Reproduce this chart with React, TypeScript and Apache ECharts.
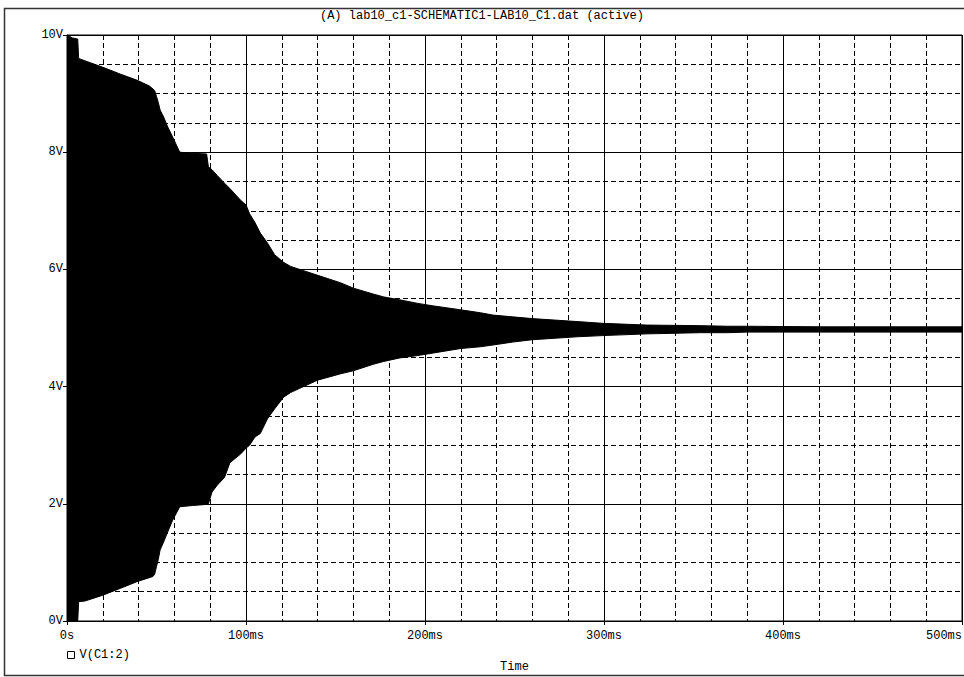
import React, { useEffect, useRef } from "react";
import * as echarts from "echarts";

const titleText = "(A) lab10_c1-SCHEMATIC1-LAB10_C1.dat (active)";
const seriesName = "V(C1:2)";

// time in ms
const timeMs = [0, 3, 6, 6.5, 10, 20, 30, 39, 46, 48, 49, 50, 51, 52, 54, 56, 59, 63, 70, 78, 79, 81, 84, 88, 91, 97, 100, 102, 105, 108, 112, 116, 121, 125, 130, 140, 153, 160, 171, 177, 186, 196, 204, 220, 231, 238, 249, 260, 285, 299, 324, 354, 369, 380, 421, 460, 500];
// upper envelope of V(C1:2), volts
const upperV = [10.0, 9.95, 9.93, 9.6, 9.56, 9.45, 9.33, 9.23, 9.13, 9.08, 9.05, 8.95, 8.85, 8.72, 8.6, 8.45, 8.26, 8.0, 7.98, 7.97, 7.75, 7.7, 7.6, 7.47, 7.38, 7.18, 7.1, 6.95, 6.8, 6.62, 6.45, 6.25, 6.12, 6.05, 6.0, 5.9, 5.77, 5.68, 5.58, 5.53, 5.48, 5.42, 5.38, 5.31, 5.26, 5.22, 5.19, 5.16, 5.11, 5.08, 5.05, 5.04, 5.03, 5.03, 5.02, 5.02, 5.02];
// lower envelope of V(C1:2), volts
const lowerV = [0.0, 0.0, 0.0, 0.33, 0.34, 0.44, 0.56, 0.67, 0.74, 0.76, 0.8, 0.93, 1.05, 1.21, 1.35, 1.5, 1.72, 1.95, 1.97, 1.99, 2.0, 2.2, 2.32, 2.45, 2.7, 2.85, 2.95, 3.0, 3.14, 3.2, 3.45, 3.62, 3.82, 3.9, 3.97, 4.11, 4.22, 4.27, 4.38, 4.43, 4.49, 4.53, 4.57, 4.65, 4.68, 4.71, 4.76, 4.8, 4.85, 4.87, 4.9, 4.92, 4.92, 4.93, 4.93, 4.93, 4.93];

const FONT = "Liberation Mono";

export default function App() {
  const ref = useRef<HTMLDivElement>(null);
  useEffect(() => {
    if (!ref.current) return;
    const chart = echarts.init(ref.current, null, { renderer: "svg" });
    const envData = timeMs.map((t, i) => [t, upperV[i], lowerV[i]]);
    const dashed = { color: "#000", width: 1, type: [5, 3] as any };
    chart.setOption({
      animation: false,
      backgroundColor: "#fff",
      textStyle: { fontFamily: FONT, color: "#000" },
      title: {
        text: titleText,
        left: 477,
        textAlign: "center",
        top: 5,
        textStyle: { fontFamily: FONT, fontSize: 12, fontWeight: "normal", color: "#000" },
      },
      legend: {
        data: [{ name: seriesName, icon: "rect", itemStyle: { color: "#fff", borderColor: "#000", borderWidth: 1 } }],
        left: 62,
        top: 644,
        itemWidth: 7,
        itemHeight: 7,
        itemGap: 4,
        textStyle: { fontFamily: FONT, fontSize: 12, color: "#000" },
      },
      grid: {
        left: 67,
        right: 2,
        top: 35,
        bottom: 56,
        outerBoundsMode: "none",
        containLabel: false,
        show: true,
        borderColor: "#000",
        borderWidth: 1,
        backgroundColor: "transparent",
      },
      xAxis: {
        type: "value",
        min: 0,
        max: 500,
        interval: 100,
        name: "Time",
        nameLocation: "middle",
        nameGap: 40,
        nameTextStyle: { fontFamily: FONT, fontSize: 12, color: "#000" },
        axisLine: { show: true, lineStyle: { color: "#000", width: 1 } },
        axisTick: { show: true, inside: false, length: 4, lineStyle: { color: "#000" } },
        minorTick: { show: false, splitNumber: 5 },
        axisLabel: {
          fontFamily: FONT,
          fontSize: 12,
          color: "#000",
          margin: 9,
          alignMaxLabel: "right",
          formatter: (v: number) => (v === 0 ? "0s" : `${v}ms`),
        },
        splitLine: { show: true, lineStyle: { color: "#000", width: 1 } },
        minorSplitLine: { show: true, lineStyle: dashed },
      },
      yAxis: {
        type: "value",
        min: 0,
        max: 10,
        interval: 2,
        axisLine: { show: true, lineStyle: { color: "#000", width: 1 } },
        axisTick: { show: true, inside: false, length: 4, lineStyle: { color: "#000" } },
        minorTick: { show: false, splitNumber: 4 },
        axisLabel: {
          fontFamily: FONT,
          fontSize: 12,
          color: "#000",
          margin: 4,
          formatter: (v: number) => `${v}V`,
        },
        splitLine: { show: true, lineStyle: { color: "#000", width: 1 } },
        minorSplitLine: { show: true, lineStyle: dashed },
      },
      series: [
        {
          name: seriesName,
          type: "custom",
          data: envData,
          encode: { x: 0, y: [1, 2] },
          clip: true,
          itemStyle: { color: "#000" },
          z: 3,
          renderItem: (params: any, api: any) => {
            if (params.dataIndex !== 0) return null;
            const top: number[][] = [];
            const bot: number[][] = [];
            for (let i = 0; i < timeMs.length; i++) {
              top.push(api.coord([timeMs[i], upperV[i]]));
              bot.push(api.coord([timeMs[i], lowerV[i]]));
            }
            const points = top.concat(bot.reverse());
            return {
              type: "polygon",
              shape: { points },
              style: { fill: "#000", stroke: "#000", lineWidth: 1 },
            };
          },
        },
      ],
      graphic: [
        {
          type: "rect",
          shape: { x: 4.5, y: 8.5, width: 970, height: 667 },
          style: { fill: "none", stroke: "#333", lineWidth: 1.5 },
          silent: true,
          z: 0,
        },
      ],
    });
    return () => chart.dispose();
  }, []);
  return <div ref={ref} style={{ width: 964, height: 677, position: "absolute", left: 0, top: 0 }} />;
}
